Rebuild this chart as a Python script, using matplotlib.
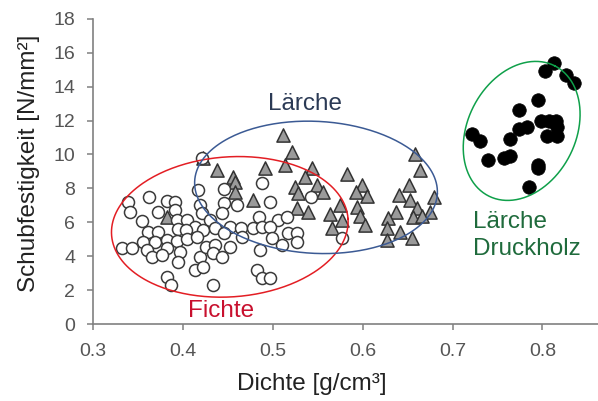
import numpy as np
import matplotlib.pyplot as plt

plt.rcParams['font.family'] = ['Liberation Sans', 'DejaVu Sans']

# Fichte (white circles)
fichte_x = [0.339, 0.362, 0.382, 0.391, 0.341, 0.372, 0.391, 0.354, 0.393, 0.404,
            0.413, 0.361, 0.372, 0.394, 0.403, 0.422, 0.355, 0.369, 0.382, 0.393,
            0.404, 0.332, 0.343, 0.360, 0.382, 0.365, 0.377, 0.397, 0.419, 0.394,
            0.413, 0.422, 0.382, 0.386, 0.417, 0.419, 0.421, 0.421, 0.445, 0.488,
            0.497, 0.445, 0.460, 0.443, 0.430, 0.484, 0.506, 0.516, 0.436, 0.452,
            0.464, 0.478, 0.488, 0.497, 0.517, 0.527, 0.416, 0.445, 0.466, 0.499,
            0.510, 0.527, 0.425, 0.436, 0.452, 0.433, 0.443, 0.486, 0.482, 0.488,
            0.497, 0.433, 0.542, 0.577]
fichte_y = [7.20, 7.50, 7.26, 7.20, 6.61, 6.61, 6.73, 6.08, 6.14, 6.14,
            5.73, 5.43, 5.43, 5.61, 5.55, 5.55, 4.84, 4.84, 4.96, 4.90,
            5.02, 4.49, 4.49, 4.37, 4.49, 3.96, 4.07, 4.25, 3.96, 3.66,
            3.19, 3.36, 2.77, 2.30, 7.91, 7.02, 6.55, 9.80, 7.97, 8.32,
            7.20, 7.14, 7.02, 6.55, 6.14, 6.32, 6.14, 6.32, 5.67, 5.73,
            5.67, 5.67, 5.73, 5.73, 5.37, 5.37, 5.14, 5.37, 5.14, 5.08,
            4.66, 4.84, 4.55, 4.66, 4.55, 4.19, 3.96, 4.37, 3.19, 2.72,
            2.72, 2.30, 7.50, 5.08]

# Lärche (grey triangles)
laerche_x = [0.422, 0.438, 0.456, 0.458, 0.458, 0.478, 0.382, 0.491, 0.511, 0.521,
             0.514, 0.544, 0.536, 0.525, 0.528, 0.549, 0.556, 0.527, 0.539, 0.583,
             0.599, 0.592, 0.605, 0.575, 0.594, 0.564, 0.597, 0.577, 0.566, 0.603,
             0.658, 0.664, 0.651, 0.640, 0.653, 0.679, 0.661, 0.675, 0.637, 0.628,
             0.656, 0.666, 0.627, 0.642, 0.627, 0.655]
laerche_y = [9.80, 9.09, 8.68, 8.38, 7.79, 7.32, 6.32, 9.21, 11.16, 10.15,
             9.39, 9.21, 8.68, 8.09, 7.73, 8.21, 7.79, 6.85, 6.61, 8.85,
             8.21, 7.79, 7.56, 7.02, 6.91, 6.49, 6.38, 6.14, 5.67, 5.84,
             10.04, 9.09, 8.21, 7.62, 7.32, 7.50, 6.85, 6.61, 6.61, 6.26,
             6.32, 6.38, 5.67, 5.43, 4.96, 5.08]

# Lärche Druckholz (black dots)
druck_x = [0.813, 0.803, 0.826, 0.835, 0.795, 0.774, 0.798, 0.807, 0.815, 0.816,
           0.783, 0.774, 0.722, 0.731, 0.764, 0.805, 0.816, 0.740, 0.757, 0.764,
           0.795, 0.795, 0.785]
druck_y = [15.4, 14.9, 14.7, 14.2, 13.2, 12.6, 12.0, 12.0, 12.0, 11.6,
           11.6, 11.5, 11.2, 10.8, 10.9, 11.1, 11.1, 9.7, 9.8, 9.9,
           9.4, 9.2, 8.1]

xticks = [0.3, 0.4, 0.5, 0.6, 0.7, 0.8]
yticks = list(range(0, 19, 2))

XMIN, XMAX = 0.3, 0.862
YMIN, YMAX = 0, 18

fig = plt.figure(figsize=(5.98, 4.01), dpi=100)
ax = fig.add_axes([0.156, 0.192, 0.844, 0.761])

ax.scatter(laerche_x, laerche_y, marker='^', s=90, facecolor='#9a9a9a',
           edgecolor='#333333', linewidth=1.1, zorder=3)
ax.scatter(fichte_x, fichte_y, marker='o', s=75, facecolor='white',
           edgecolor='#3a3a3a', linewidth=1.1, zorder=4)
ax.scatter(druck_x, druck_y, marker='o', s=95, facecolor='black',
           edgecolor='black', linewidth=0.5, zorder=4)


def ellipse(cx, cy, a_px, b_px, angle, color):
    # semi-axes given in pixels, converted with the axes scale
    bb = ax.get_window_extent()
    sx = bb.width / (XMAX - XMIN)
    sy = bb.height / (YMAX - YMIN)
    t = np.linspace(0, 2 * np.pi, 300)
    th = np.radians(angle)
    u = a_px * np.cos(t) * np.cos(th) - b_px * np.sin(t) * np.sin(th)
    v = a_px * np.cos(t) * np.sin(th) + b_px * np.sin(t) * np.cos(th)
    ax.plot(cx + u / sx, cy + v / sy, color=color, lw=1.1, zorder=5)


ellipse(0.452, 5.73, 118.5, 70, 4, '#e31e24')
ellipse(0.548, 8.06, 121.5, 66, -3, '#3b5a94')
ellipse(0.777, 11.39, 73, 54, 63, '#0fa04a')

ax.text(0.5356, 12.63, 'Lärche', color='#2b3a55', fontsize=17.5,
        ha='center', va='baseline')
ax.text(0.4427, 0.43, 'Fichte', color='#c8102e', fontsize=17.5,
        ha='center', va='baseline')
ax.text(0.7231, 5.65, 'Lärche', color='#1f6b3c', fontsize=17.5,
        ha='left', va='baseline')
ax.text(0.7231, 4.07, 'Druckholz', color='#1f6b3c', fontsize=17.5,
        ha='left', va='baseline')

ax.set_xlim(XMIN, XMAX)
ax.set_ylim(YMIN, YMAX)
ax.set_xticks(xticks)
ax.set_xticklabels([f'{v:.1f}' for v in xticks])
ax.set_yticks(yticks)

for s in ['top', 'right']:
    ax.spines[s].set_visible(False)
for s in ['left', 'bottom']:
    ax.spines[s].set_color('#808080')
    ax.spines[s].set_linewidth(1.2)
ax.tick_params(direction='out', length=4, width=1.1, color='#808080',
               labelcolor='#555555', labelsize=14)
ax.tick_params(axis='y', pad=9)
ax.tick_params(axis='x', pad=10)

ax.set_xlabel('Dichte [g/cm³]', fontsize=17.5, color='#222222')
ax.set_ylabel('Schubfestigkeit [N/mm²]', fontsize=17.5, color='#222222')
ax.xaxis.set_label_coords(0.433, -0.16)
ax.yaxis.set_label_coords(-0.105, 0.525)

fig.savefig('out.png', dpi=100)
